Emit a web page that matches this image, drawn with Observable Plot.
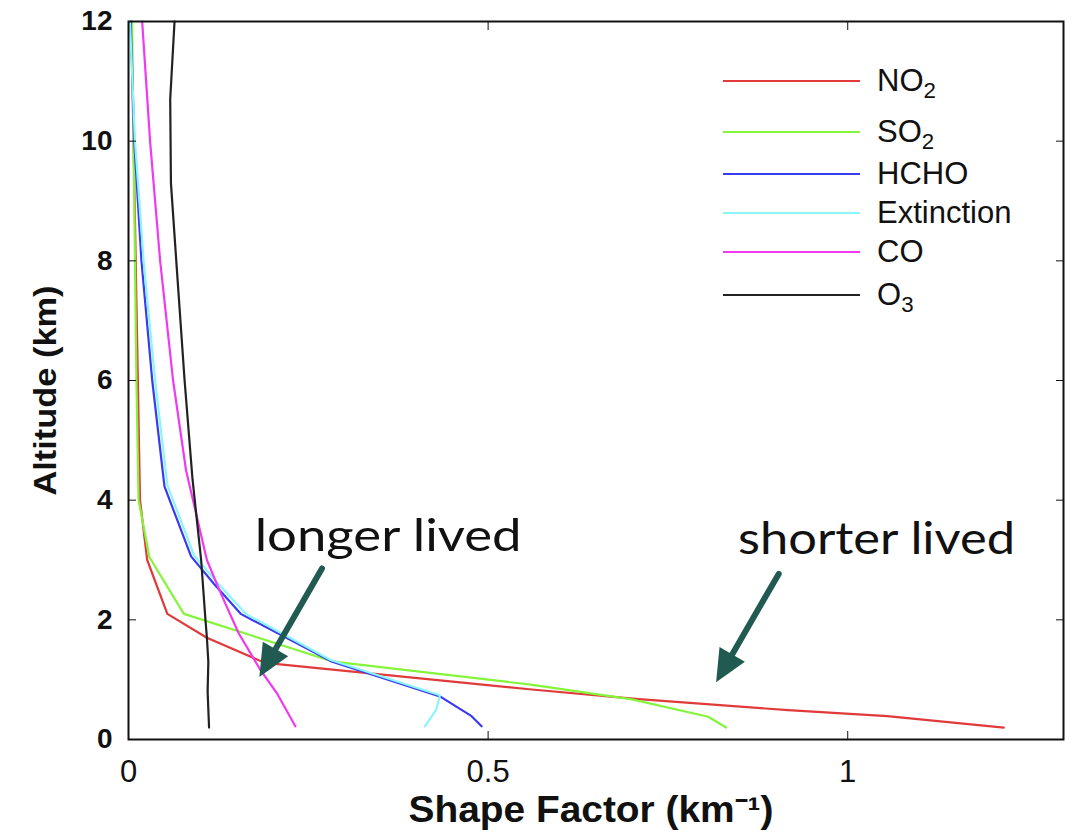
<!DOCTYPE html>
<html><head><meta charset="utf-8">
<script src="https://cdn.jsdelivr.net/npm/d3@7"></script>
<script src="https://cdn.jsdelivr.net/npm/@observablehq/plot@0.6"></script>
<style>
body{margin:0;background:#fff;}
#wrap{position:relative;width:1076px;height:834px;overflow:hidden;}
#legend{position:absolute;left:723px;top:0;font-family:"Liberation Sans",Arial,sans-serif;font-size:31px;color:#111;}
.row{position:absolute;left:0;height:0;display:flex;align-items:center;white-space:nowrap;}
.sw{width:137px;height:0;border-top:2px solid;margin-right:17px;}
.row sub{font-size:0.72em;vertical-align:-0.3em;line-height:0;}
</style></head><body><div id="wrap"><div id="chart"></div><div id="legend"></div></div>
<script>
// ---- data ----
const species = ["NO2", "SO2", "HCHO", "Extinction", "CO", "O3"];
const legendHtml = ["NO<sub>2</sub>", "SO<sub>2</sub>", "HCHO", "Extinction", "CO", "O<sub>3</sub>"];
const colors = ["#e03a3a", "#84f53a", "#3a3af0", "#8af5fa", "#f03af0", "#222222"];

const no2Alt = [12, 10, 8, 6, 4, 3.0, 2.1, 1.7, 1.28, 0.84, 0.68, 0.49, 0.39, 0.2];
const no2X   = [0.004, 0.007, 0.010, 0.013, 0.016, 0.026, 0.054, 0.109, 0.19, 0.557, 0.705, 0.917, 1.055, 1.217];

const so2Alt = [12, 10, 8, 6, 4, 3.05, 2.1, 1.3, 0.92, 0.67, 0.38, 0.2];
const so2X   = [0.005, 0.007, 0.009, 0.011, 0.014, 0.029, 0.077, 0.285, 0.557, 0.70, 0.806, 0.831];

const hchoAlt = [12, 10, 8, 6, 4.23, 3.06, 2.6, 2.1, 1.31, 0.72, 0.39, 0.22];
const hchoX   = [0.003, 0.008, 0.018, 0.033, 0.050, 0.087, 0.119, 0.156, 0.281, 0.433, 0.477, 0.491];

const extAlt = [12, 10, 8, 6, 4.25, 3.08, 2.6, 2.1, 1.33, 0.74, 0.5, 0.22];
const extX   = [0.002, 0.009, 0.021, 0.037, 0.054, 0.091, 0.125, 0.163, 0.281, 0.433, 0.428, 0.412];

const coAlt = [12, 10, 8, 6, 4.5, 3.0, 2.45, 1.78, 1.17, 0.78, 0.22];
const coX   = [0.019, 0.030, 0.044, 0.062, 0.080, 0.109, 0.128, 0.153, 0.183, 0.206, 0.232];

const o3Alt = [12, 10.7, 9.3, 7.9, 6, 4.35, 3, 2, 1.7, 1.3, 0.8, 0.2];
const o3X   = [0.064, 0.058, 0.059, 0.067, 0.078, 0.089, 0.101, 0.107, 0.109, 0.111, 0.110, 0.112];

const xTicks = [0, 0.5, 1];
const yTicks = [0, 2, 4, 6, 8, 10, 12];

const annoText = ["longer lived", "shorter lived"];
const annoX = [0.361, 1.040];
const annoAlt = [3.39, 3.34];
const arrowTipX = [0.187, 0.822];
const arrowTipAlt = [1.15, 1.06];

// ---- build ----
const seriesX = [no2X, so2X, hchoX, extX, coX, o3X];
const seriesAlt = [no2Alt, so2Alt, hchoAlt, extAlt, coAlt, o3Alt];
const rows = [];
species.forEach((s, i) => seriesX[i].forEach((x, j) => rows.push({species: s, x, alt: seriesAlt[i][j]})));
const annos = annoText.map((t, i) => ({t, x: annoX[i], y: annoAlt[i]}));
const arrows = arrowTipX.map((x, i) => ({x, y: arrowTipAlt[i]}));

const arrowShape = {
  draw(context, l) {
    const h = 22, w = 10;
    context.moveTo(0, 0);
    context.lineTo(0, -l + h);
    context.moveTo(0, -l);
    context.lineTo(w, -l + h);
    context.lineTo(-w, -l + h);
    context.closePath();
  }
};

const chart = Plot.plot({
  width: 1076, height: 834,
  marginLeft: 128, marginRight: 13, marginTop: 21, marginBottom: 95,
  x: {domain: [0, 1.3]},
  y: {domain: [0, 12]},
  color: {domain: species, range: colors},
  style: {fontFamily: "'Liberation Sans', Arial, sans-serif", color: "#111", background: "#fff", overflow: "visible"},
  marks: [
    Plot.line(rows, {x: "x", y: "alt", z: "species", stroke: "species", strokeWidth: 2.2}),
    Plot.frame({stroke: "#111", strokeWidth: 2}),
    Plot.axisX(xTicks, {anchor: "bottom", tickSize: -8, tickPadding: 28, fontSize: 31, tickFormat: d => `${d}`, label: null}),
    Plot.axisX(xTicks, {anchor: "top", tickSize: -8, tickFormat: () => "", label: null}),
    Plot.axisY(yTicks, {anchor: "left", tickSize: -8, tickPadding: 24, fontSize: 28, fontWeight: "bold", tickFormat: d => `${d}`, label: null}),
    Plot.axisY(yTicks, {anchor: "right", tickSize: -8, tickFormat: () => "", label: null}),
    Plot.text(["Altitude (km)"], {frameAnchor: "left", textAnchor: "middle", dx: -83, dy: 10, rotate: -90, fontSize: 32, fontWeight: "bold"}),
    Plot.text(["Shape Factor (km⁻¹)"], {frameAnchor: "bottom", dy: 82, dx: -5, fontSize: 36, fontWeight: "bold"}),
    Plot.vector(arrows, {x: "x", y: "y", anchor: "end", length: 118, rotate: 210, shape: arrowShape, stroke: "#215a50", fill: "#215a50", strokeWidth: 6, strokeLinejoin: "miter"}),
    Plot.text(annos, {x: "x", y: "y", text: "t", fontSize: 45, fontFamily: "Lato, 'Open Sans', sans-serif", fontWeight: 400, fill: "#111"})
  ]
});
document.getElementById("chart").appendChild(chart);

// stretch texts to the reference extents
const textLengths = {"Altitude (km)": 210, "Shape Factor (km⁻¹)": 365, "longer lived": 267, "shorter lived": 277};
d3.select(chart).selectAll("text").each(function () {
  const t = this.textContent;
  if (textLengths[t]) {
    this.setAttribute("textLength", textLengths[t]);
    this.setAttribute("lengthAdjust", "spacingAndGlyphs");
  }
});

const legendY = [81, 132, 174, 213, 252, 295];
const leg = document.getElementById("legend");
species.forEach((s, i) => {
  const r = document.createElement("div");
  r.className = "row";
  r.style.top = legendY[i] + "px";
  r.innerHTML = `<span class="sw" style="border-color:${colors[i]}"></span><span>${legendHtml[i]}</span>`;
  leg.appendChild(r);
});
</script></body></html>
